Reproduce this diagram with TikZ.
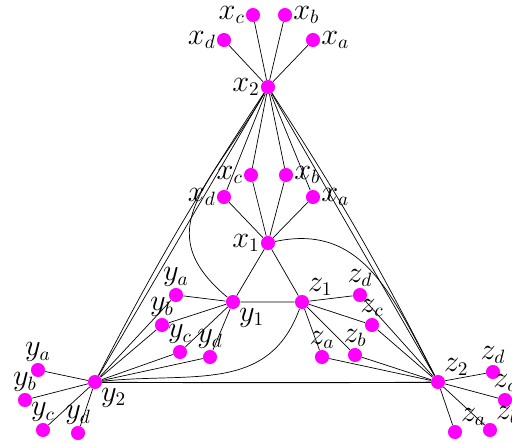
\documentclass[tikz,border=0pt]{standalone}
\usetikzlibrary{backgrounds}
\definecolor{dotpink}{RGB}{255,0,255}

\begin{document}
\begin{tikzpicture}[x=0.02cm, y=0.02cm,
    vtx/.style={circle, fill=dotpink, inner sep=0pt, minimum size=8pt},
    every label/.style={font=\fontsize{16}{18}\selectfont, inner sep=0.3pt},
    lnk/.style={line width=0.6pt}]
    \useasboundingbox (0,0) rectangle (512,443);

    % outer hubs and their leaves
    \node[vtx, label=left:$x_2$] (x2) at (268,356) {};
    \node[vtx, label=left:$x_d$] (xd2) at (224,403) {};
    \node[vtx, label=left:$x_c$] (xc2) at (253,428) {};
    \node[vtx, label=right:$x_b$] (xb2) at (285,428) {};
    \node[vtx, label=right:$x_a$] (xa2) at (313,403) {};

    \node[vtx, label=below right:$y_2$] (y2) at (95,61) {};
    \node[vtx, label=above:$y_a$] (ya2) at (38,73) {};
    \node[vtx, label=above:$y_b$] (yb2) at (25,43) {};
    \node[vtx, label=above:$y_c$] (yc2) at (43,13) {};
    \node[vtx, label=above:$y_d$] (yd2) at (78,10) {};

    \node[vtx, label=above right:$z_2$] (z2) at (438,61) {};
    \node[vtx, label=above:$z_d$] (zd2) at (493,71) {};
    \node[vtx, label=above:$z_c$] (zc2) at (505,43) {};
    \node[vtx, label=above right:$z_b$] (zb2) at (490,13) {};
    \node[vtx, label=above right:$z_a$] (za2) at (455,11) {};

    % inner hubs and their leaves
    \node[vtx, label=left:$x_1$] (x1) at (268,200) {};
    \node[vtx, label=left:$x_d$] (xd1) at (224,246) {};
    \node[vtx, label=left:$x_c$] (xc1) at (251,268) {};
    \node[vtx, label=right:$x_b$] (xb1) at (286,268) {};
    \node[vtx, label=right:$x_a$] (xa1) at (313,246) {};

    \node[vtx, label=below right:$y_1$] (y1) at (233,141) {};
    \node[vtx, label=above:$y_a$] (ya1) at (176,148) {};
    \node[vtx, label=above:$y_b$] (yb1) at (162,118) {};
    \node[vtx, label=above:$y_c$] (yc1) at (180,91) {};
    \node[vtx, label=above:$y_d$] (yd1) at (210,86) {};

    \node[vtx, label=above right:$z_1$] (z1) at (302,141) {};
    \node[vtx, label=above:$z_d$] (zd1) at (360,148) {};
    \node[vtx, label=above:$z_c$] (zc1) at (372,118) {};
    \node[vtx, label=above:$z_b$] (zb1) at (355,88) {};
    \node[vtx, label=above:$z_a$] (za1) at (322,86) {};

    \begin{scope}[on background layer, lnk]
        % leaves
        \foreach \s in {a,b,c,d} {
            \draw (x2) -- (x\s2);
            \draw (y2) -- (y\s2);
            \draw (z2) -- (z\s2);
            \draw (x1) -- (x\s1);
            \draw (y1) -- (y\s1);
            \draw (z1) -- (z\s1);
            \draw (x2) -- (x\s1);
            \draw (y2) -- (y\s1);
            \draw (z2) -- (z\s1);
        }
        % outer triangle, double edges
        \draw (x2) -- (y2);
        \draw (x2) to[bend right=3] (y2);
        \draw (x2) -- (z2);
        \draw (x2) to[bend left=3] (z2);
        \draw (y2) -- (z2);
        \draw (y2) to[bend right=0.5] (z2);
        % inner triangle
        \draw (x1) -- (y1) -- (z1) -- (x1);
        % curved links
        \draw (y1) to[out=140, in=240, looseness=1.3] (x2);
        \draw (x1) to[out=12, in=118, looseness=1.1] (z2);
        \draw (z1) to[out=250, in=6, looseness=1.1] (y2);
    \end{scope}
\end{tikzpicture}
\end{document}
